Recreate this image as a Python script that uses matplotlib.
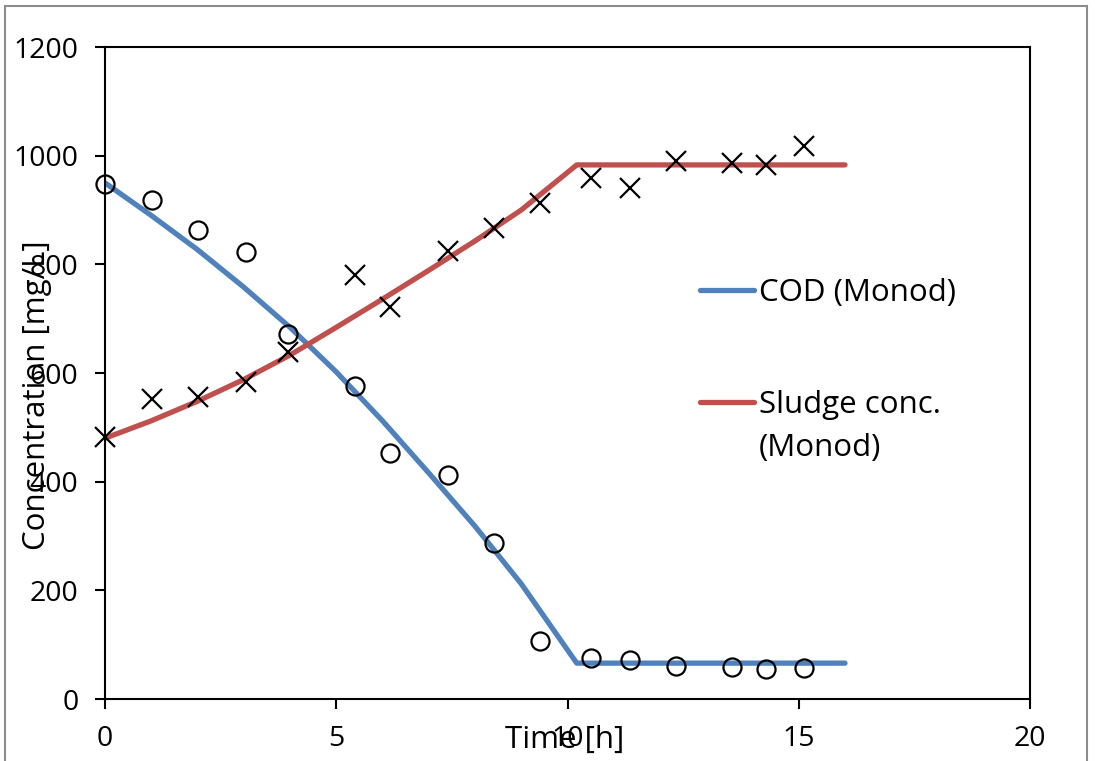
import matplotlib
matplotlib.use('Agg')

import matplotlib.pyplot as plt
from matplotlib.lines import Line2D
from matplotlib.patches import Rectangle

plt.rcParams['font.family'] = ['Open Sans', 'DejaVu Sans']

# measured values
t_meas = [0, 1.02, 2.01, 3.05, 3.96, 5.4, 6.16, 7.42, 8.41, 9.4,
          10.5, 11.35, 12.35, 13.56, 14.3, 15.12]
cod_meas = [948, 918, 863, 823, 672, 576, 453, 412, 287, 107,
            75, 72, 61, 59, 55, 57]
sludge_meas = [482, 553, 556, 584, 639, 780, 722, 824, 866, 913,
               959, 941, 990, 987, 983, 1018]

# Monod model curves
t_model = [0, 1, 2, 3, 4, 5, 6, 7, 8, 9, 10.2, 16]
cod_model = [950, 890, 827, 758, 684, 602, 512, 416, 318, 212, 66, 66]
sludge_model = [480, 512, 548, 588, 633, 684, 736, 789, 843, 900, 983, 983]

BLUE = '#4F81BD'
RED = '#C0504D'
LABEL_SIZE = 22.5
TICK_SIZE = 20.5


def main():
    fig = plt.figure(figsize=(10.95, 7.61), dpi=100)
    ax = fig.add_axes([105 / 1095, 1 - 699 / 761, 925 / 1095, 652 / 761])

    cod_line, = ax.plot(t_model, cod_model, color=BLUE, lw=3.8,
                        solid_capstyle='round', solid_joinstyle='round',
                        zorder=2)
    sludge_line, = ax.plot(t_model, sludge_model, color=RED, lw=3.8,
                           solid_capstyle='round', solid_joinstyle='round',
                           zorder=2)
    ax.plot(t_meas, cod_meas, 'o', ms=13, mfc='none', mec='black',
            mew=1.6, zorder=3, clip_on=False)
    ax.plot(t_meas, sludge_meas, 'x', ms=14, mec='black', mew=1.6,
            zorder=3, clip_on=False)

    ax.set_xlim(0, 20)
    ax.set_ylim(0, 1200)
    ax.set_xticks([0, 5, 10, 15, 20])
    ax.set_yticks(range(0, 1201, 200))
    for s in ax.spines.values():
        s.set_linewidth(1.5)
        s.set_color('black')
    ax.tick_params(axis='both', direction='out', length=7, width=1.5,
                   labelsize=TICK_SIZE, pad=12)

    ax.set_xlabel('Time [h]', fontsize=LABEL_SIZE)
    ax.xaxis.set_label_coords(0.497, -0.063)
    ax.xaxis.label.set_va('center')
    ax.set_ylabel('Concentration [mg/L]', fontsize=LABEL_SIZE)
    ax.yaxis.set_label_coords(-0.074, 0.466)
    ax.yaxis.label.set_va('center')

    leg1 = ax.legend([cod_line], ['COD (Monod)'], loc='center left',
                     bbox_to_anchor=(0.643, 0.623), frameon=False,
                     fontsize=LABEL_SIZE, borderpad=0, borderaxespad=0,
                     handlelength=1.75, handletextpad=0.13)
    ax.add_artist(leg1)
    blank = Line2D([], [], color='none')
    ax.legend([sludge_line, blank], ['Sludge conc.', '(Monod)'],
              loc='center left', bbox_to_anchor=(0.643, 0.418),
              frameon=False, fontsize=LABEL_SIZE, borderpad=0, borderaxespad=0,
              handlelength=1.75, handletextpad=0.13, labelspacing=0.4)

    # outer chart border
    fig.patches.append(Rectangle((5 / 1095, -0.05), 1082 / 1095, 1.05 - 6 / 761,
                                 transform=fig.transFigure, fill=False,
                                 edgecolor='#8c8c8c', linewidth=1.5))

    fig.savefig('out.png', dpi=100)
    plt.close(fig)


if __name__ == '__main__':
    main()
